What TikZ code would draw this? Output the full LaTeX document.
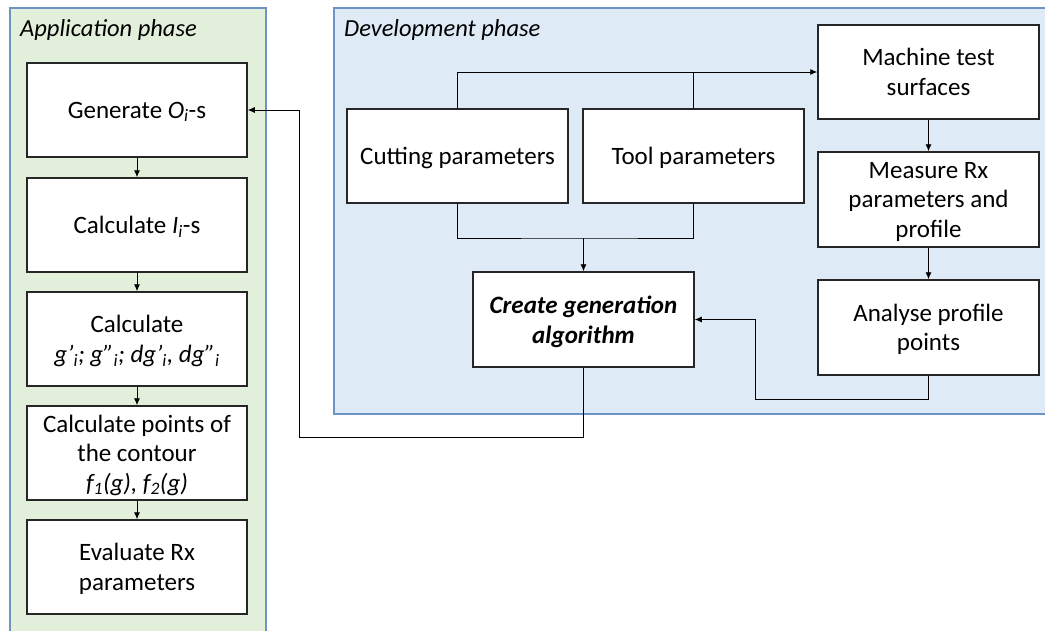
\documentclass[tikz,border=0pt]{standalone}
\usepackage{fontspec}
\setmainfont{Carlito}
\usetikzlibrary{arrows.meta}
\definecolor{appfill}{HTML}{E2EFDA}
\definecolor{devfill}{HTML}{DEEBF7}
\definecolor{panelborder}{HTML}{6F93C4}
\begin{document}
\begin{tikzpicture}[x=1pt,y=-1pt,
  box/.style={draw=black!85,line width=1.5pt,fill=white,minimum width=220pt,minimum height=94pt,align=center,inner sep=2pt,text depth=0pt,font=\fontsize{25}{29.5}\selectfont},
  panel/.style={draw=panelborder,line width=1.3pt},
  arr/.style={-{Latex[length=7pt,width=6pt]},line width=0.9pt},
  con/.style={line width=0.9pt},
  ttl/.style={anchor=west,inner sep=0pt,font=\fontsize{24.5}{28}\selectfont\itshape}]
\useasboundingbox (0,0) rectangle (1045,630);
\fill[white] (0,0) rectangle (1045,630);
\draw[panel,fill=appfill] (10,8) rectangle (266,645);
\draw[panel,fill=devfill] (334,8) rectangle (1060,414);
\node[ttl] (tapp) at (20,30) {Application phase};
\node[ttl] (tdev) at (344,30) {Development phase};
% left column
\node[box] (b1) at (137,110) {Generate \textit{O\textsubscript{i}}-s};
\node[box] (b2) at (137,225) {Calculate \textit{I\textsubscript{i}}-s};
\node[box] (b3) at (137,339) {Calculate\\\textit{g’\textsubscript{i}; g”\textsubscript{i}; dg’\textsubscript{i}, dg”\textsubscript{i}}};
\node[box] (b4) at (137,453) {Calculate points of\\the contour\\\textit{f\textsubscript{1}(g), f\textsubscript{2}(g)}};
\node[box] (b5) at (137,567) {Evaluate Rx\\parameters};
% development
\node[box,minimum width=221pt] (cut) at (457.5,156) {Cutting parameters};
\node[box,minimum width=221pt] (tool) at (693.5,156) {Tool parameters};
\node[box,minimum width=221pt] (mach) at (928.5,72) {Machine test\\surfaces};
\node[box,minimum width=221pt,minimum height=95pt] (meas) at (928.5,199.5) {Measure Rx\\parameters and\\profile};
\node[box,minimum width=221pt,minimum height=95pt] (anal) at (928.5,327.5) {Analyse profile\\points};
\node[box,minimum width=221pt,minimum height=95pt,font=\fontsize{25}{29.5}\selectfont\bfseries\itshape] (crea) at (583.5,319.5) {Create generation\\algorithm};
% connectors
\coordinate (m) at (583.5,238);
\coordinate (r1) at (755,399);
\coordinate (r2) at (299,437);
\draw[arr] (cut.north) |- (mach.west);
\draw[con] (tool.north) -- (tool.north |- mach.west);
\draw[con] (cut.south) |- (m) -| (tool.south);
\draw[arr] (m) -- (crea.north);
\draw[arr] (mach.south) -- (meas.north);
\draw[arr] (meas.south) -- (anal.north);
\draw[arr] (anal.south) |- (r1) |- (crea.east);
\draw[arr] (crea.south) |- (r2) |- (b1.east);
\draw[arr] (b1.south) -- (b2.north);
\draw[arr] (b2.south) -- (b3.north);
\draw[arr] (b3.south) -- (b4.north);
\draw[arr] (b4.south) -- (b5.north);
\end{tikzpicture}
\end{document}
